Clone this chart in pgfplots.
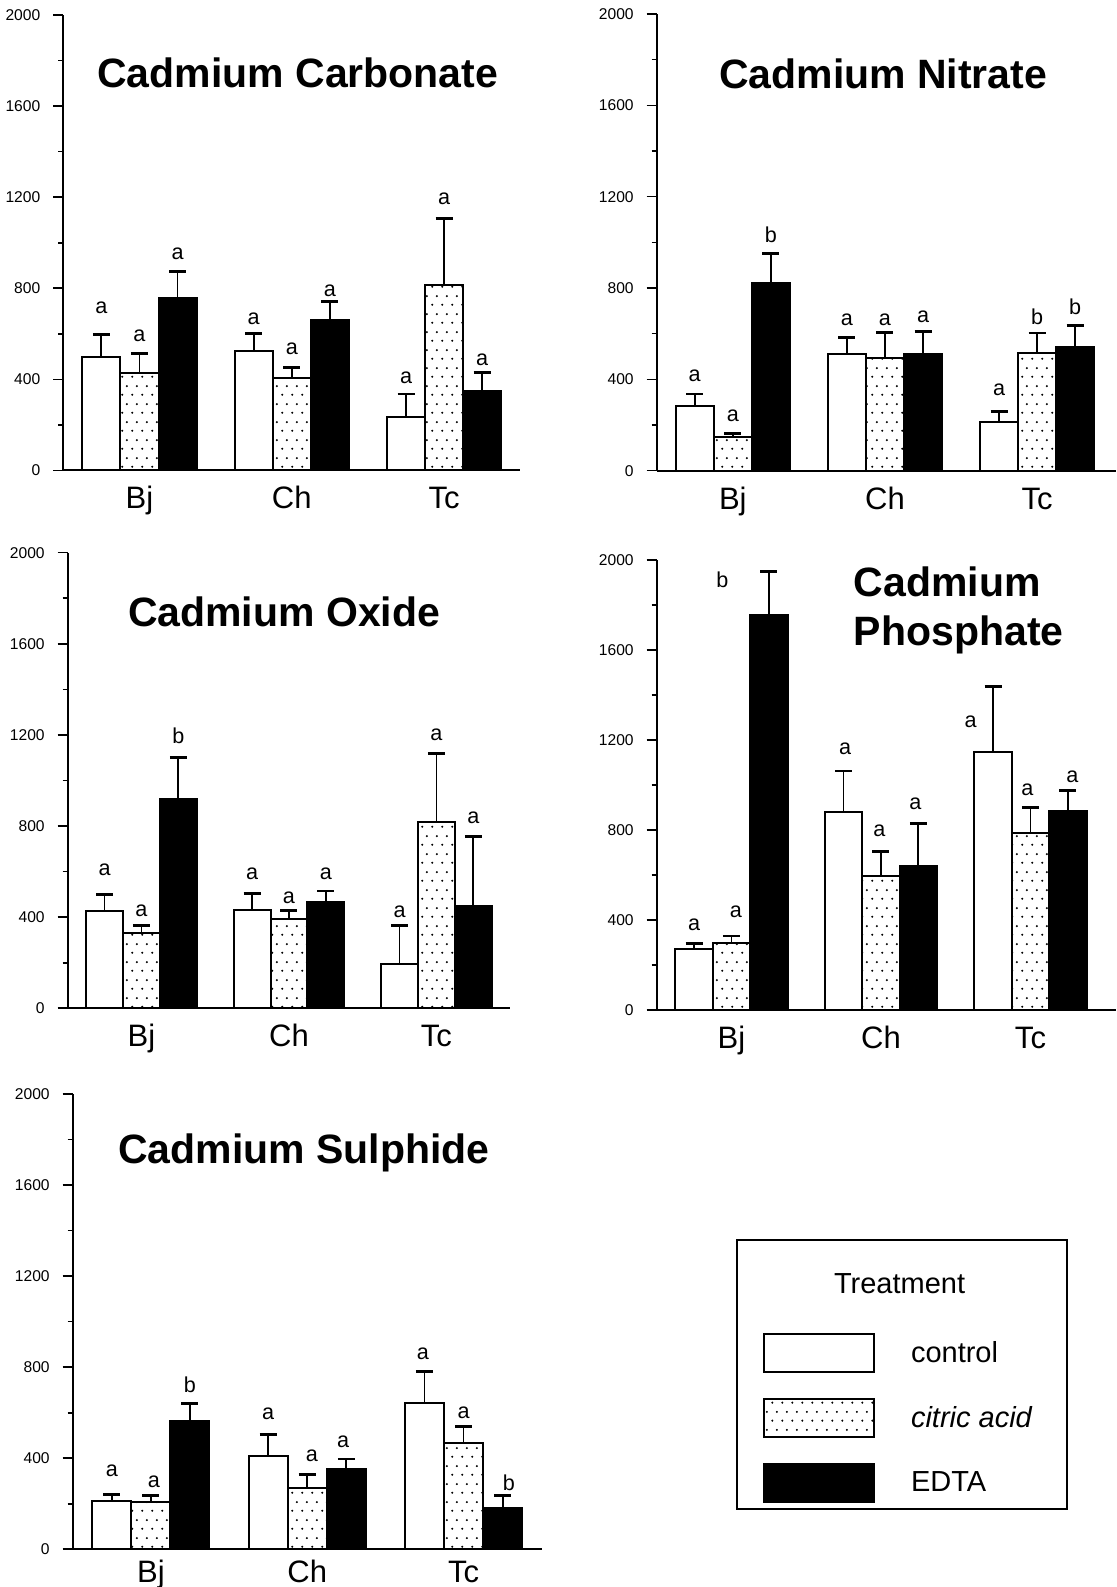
\documentclass[border=0pt]{standalone}
\usepackage{fontspec}
\setmainfont{Liberation Sans}
\usepackage{pgfplots}
\pgfplotsset{compat=1.18}
\usepackage{pgfplotstable}
\usetikzlibrary{patterns.meta}

% sparse stipple used for the citric acid bars
\pgfdeclarepattern{
  name=stipple,
  type=uncolored,
  bottom left={\pgfpoint{0pt}{0pt}},
  top right={\pgfpoint{5pt}{9pt}},
  tile size={\pgfpoint{5pt}{9pt}},
  code={
    \pgfpathcircle{\pgfpoint{1.25pt}{2.25pt}}{0.6pt}
    \pgfpathcircle{\pgfpoint{3.75pt}{6.75pt}}{0.6pt}
    \pgfusepath{fill}
  }
}

% x: species (0 Bj, 1 Ch, 2 Tc); means and upper error per treatment
\pgfplotstableread{
x ctl ctlE cit citE edta edtaE
0 497 100 426  88 756 117
1 525  78 407  45 661  82
2 237  99 813 292 347  82
}\carbonate
\pgfplotstableread{
x y t
-0.25  715 a
 0.00  591 a
 0.25  952 a
 0.75  664 a
 1.00  533 a
 1.25  791 a
 1.75  409 a
 2.00 1194 a
 2.25  486 a
}\carbonatelbl

\pgfplotstableread{
x ctl ctlE cit citE edta edtaE
0 283  53 146  18 821 131
1 510  74 492 112 510 100
2 212  48 514  89 542  95
}\nitrate
\pgfplotstableread{
x y t
-0.25  416 a
 0.00  241 a
 0.25 1035 b
 0.75  660 a
 1.00  663 a
 1.25  672 a
 1.75  356 a
 2.00  672 b
 2.25  718 b
}\nitratelbl

\pgfplotstableread{
x ctl ctlE cit citE edta edtaE
0 426  73 329  35 917 185
1 431  73 391  40 466  49
2 194 171 818 302 448 307
}\oxide
\pgfplotstableread{
x y t
-0.25  606 a
 0.00  426 a
 0.25 1197 b
 0.75  591 a
 1.00  485 a
 1.25  591 a
 1.75  423 a
 2.00 1200 a
 2.25  837 a
}\oxidelbl

\pgfplotstableread{
x ctl ctlE cit citE edta edtaE
0  270  26 299  30 1756 192
1  879 183 597 107  640 190
2 1145 292 788 111  884  91
}\phosphate
\pgfplotstableread{
x y t
-0.25  378 a
 0.03  437 a
-0.06 1914 b
 0.76 1160 a
 0.99  796 a
 1.23  916 a
 1.60 1281 a
 1.98  978 a
 2.28 1037 a
}\phosphatelbl

\pgfplotstableread{
x ctl ctlE cit citE edta edtaE
0 212  27 207  29 564  78
1 410  95 268  59 353  44
2 642 139 466  73 183  53
}\sulphide
\pgfplotstableread{
x y t
-0.25 346 a
 0.02 297 a
 0.25 722 b
 0.75 595 a
 1.03 410 a
 1.23 472 a
 1.74 858 a
 2.00 598 a
 2.29 294 b
}\sulphidelbl

\tikzset{paneltitle/.style={font=\bfseries\fontsize{20.5}{24}\selectfont}}

\pgfplotsset{
  cdpanel/.style={
    scale only axis,
    anchor=south west,
    axis lines=left,
    axis line style={-, line width=1pt},
    xmin=-0.5, xmax=2.5, ymin=0, ymax=2000,
    xtick={0,1,2}, xticklabels={Bj,Ch,Tc},
    major x tick style={draw=none},
    ytick={0,400,...,2000},
    minor ytick={200,600,...,1800},
    tick align=outside,
    major tick length=5pt, minor tick length=2.5pt,
    y tick style={line width=0.8pt, black},
    yticklabel style={font=\fontsize{7.8}{9}\selectfont, xshift=-3pt},
    xticklabel style={font=\fontsize{15.5}{17}\selectfont, anchor=base,
      inner sep=1pt, yshift=-14.25pt},
    /pgf/number format/assume math mode=true,
    /pgf/number format/1000 sep={},
    clip=false,
  },
  barbase/.style={
    ybar, bar width=0.25, bar shift=0pt,
    draw=black, line width=1pt, forget plot,
    error bars/y dir=plus,
    error bars/y explicit,
    error bars/error bar style={line width=0.9pt, black},
    error bars/error mark options={rotate=90, line width=1.4pt, mark size=4.25pt, black},
  },
  ctlbar/.style={barbase, fill=white},
  citbar/.style={barbase, pattern=stipple, pattern color=black},
  edtabar/.style={barbase, fill=black},
  letters/.style={
    draw=none, mark=none, forget plot,
    nodes near coords, point meta=explicit symbolic,
    every node near coord/.append style={anchor=center, inner sep=0pt,
      font=\fontsize{10.8}{12}\selectfont},
  },
}

% three bars per species, with letters above them
\newcommand{\panelbars}[2]{%
  \addplot[ctlbar] table[x expr=\thisrow{x}-0.25, y=ctl, y error=ctlE] {#1};
  \addplot[citbar] table[x=x, y=cit, y error=citE] {#1};
  \addplot[edtabar] table[x expr=\thisrow{x}+0.25, y=edta, y error=edtaE] {#1};
  \addplot[letters] table[x=x, y=y, meta=t] {#2};
}

\begin{document}
\begin{tikzpicture}
\path[use as bounding box] (0pt,0pt) rectangle (558pt,793.5pt);

% Cadmium Carbonate
\begin{axis}[cdpanel, at={(31.65pt,558.25pt)}, width=228.5pt, height=227.75pt]
\panelbars{\carbonate}{\carbonatelbl}
\node[paneltitle, anchor=base] at (axis description cs:0.513,0.840) {Cadmium Carbonate};
\end{axis}

% Cadmium Nitrate
\begin{axis}[cdpanel, at={(328.35pt,558.15pt)}, width=229.65pt, height=228.35pt, xmax=2.518]
\panelbars{\nitrate}{\nitratelbl}
\node[paneltitle, anchor=base] at (axis description cs:0.493,0.836) {Cadmium Nitrate};
\end{axis}

% Cadmium Oxide
\begin{axis}[cdpanel, at={(33.85pt,289.35pt)}, width=221.25pt, height=227.8pt]
\panelbars{\oxide}{\oxidelbl}
\node[paneltitle, anchor=base] at (axis description cs:0.489,0.837) {Cadmium Oxide};
\end{axis}

% Cadmium Phosphate
\begin{axis}[cdpanel, at={(328.35pt,288.5pt)}, width=229.65pt, height=225pt, xmax=2.572]
\panelbars{\phosphate}{\phosphatelbl}
\node[paneltitle, anchor=base west] at (axis description cs:0.414,0.918) {Cadmium};
\node[paneltitle, anchor=base west] at (axis description cs:0.414,0.811) {Phosphate};
\end{axis}

% Cadmium Sulphide, carrying the treatment legend
\begin{axis}[cdpanel, at={(36.35pt,18.85pt)}, width=234.5pt, height=227.65pt,
  xticklabel style={yshift=2.75pt},
  legend style={at={(axis description cs:1.4143,0.6815)}, anchor=north west,
    draw=black, line width=1pt, inner xsep=13pt, inner ysep=3pt,
    column sep=18pt, row sep=12.5pt,
    font=\fontsize{14.5}{17}\selectfont, nodes={inner sep=0pt}},
  legend cell align=left,
  legend image code/.code={\path[#1] (0pt,-9.5pt) rectangle (55pt,9.5pt);},
]
\panelbars{\sulphide}{\sulphidelbl}
\node[paneltitle, anchor=base] at (axis description cs:0.493,0.848) {Cadmium Sulphide};
% heading row: an empty cell that only reserves the space around the heading
\addlegendimage{legend image code/.code={\path[draw=none, fill=none] (0pt,-11.9pt) rectangle (0pt,19.3pt);}}
\addlegendentry{\hspace*{-38.5pt}Treatment}
\addlegendimage{fill=white, draw=black, line width=1pt}
\addlegendentry{\makebox[65pt][l]{control}}
\addlegendimage{pattern=stipple, pattern color=black, draw=black, line width=1pt}
\addlegendentry{\makebox[65pt][l]{\itshape citric acid}}
\addlegendimage{fill=black, draw=black, line width=1pt}
\addlegendentry{\makebox[65pt][l]{EDTA}}
\end{axis}
\end{tikzpicture}
\end{document}
